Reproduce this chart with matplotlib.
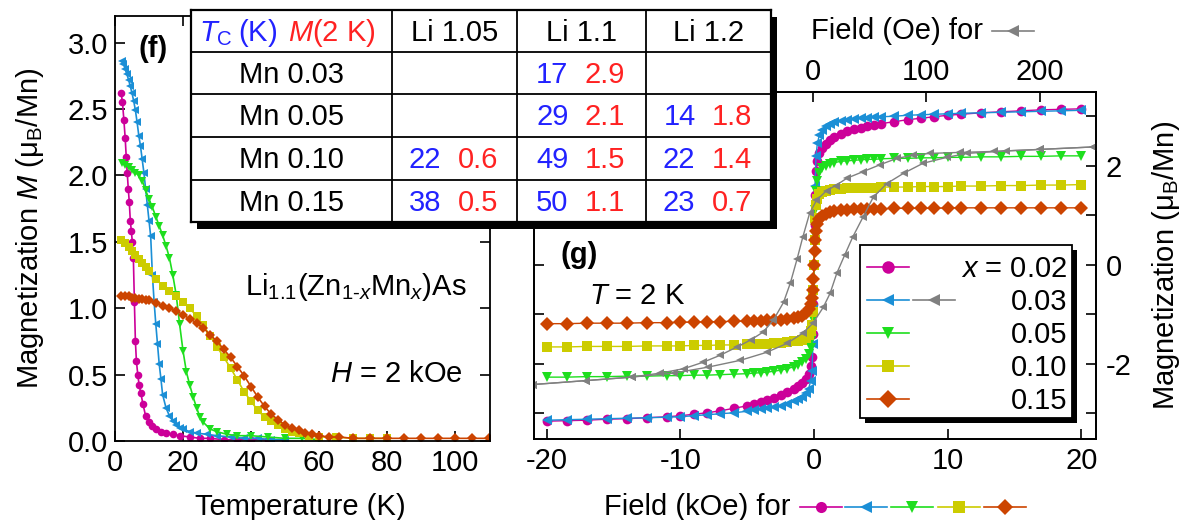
import matplotlib.pyplot as plt
from matplotlib.patches import Rectangle
from matplotlib.lines import Line2D
from matplotlib.ticker import FormatStrFormatter

plt.rcParams['font.family'] = ['Liberation Sans', 'DejaVu Sans']
plt.rcParams['mathtext.fontset'] = 'custom'
plt.rcParams['mathtext.rm'] = 'Liberation Sans'
plt.rcParams['mathtext.it'] = 'Liberation Sans:italic'
plt.rcParams['mathtext.bf'] = 'Liberation Sans:bold'
plt.rcParams['axes.unicode_minus'] = False
plt.rcParams['axes.linewidth'] = 1.3

W, H = 1183, 520
FS = 21

# ---- panel (f): M vs T at H = 2 kOe ----
t_002 = [1.8, 2.2, 2.6, 3.0, 3.3, 3.6, 3.9, 4.2, 4.5, 4.8, 5.1, 5.4, 5.7, 6.0, 6.3, 6.7, 7.1,
         7.6, 8.2, 9.0, 10, 11, 12, 13.5, 15, 17, 19, 22, 25, 28, 32, 36, 40, 45, 50]
m_002 = [2.62, 2.55, 2.42, 2.28, 2.14, 2.02, 1.90, 1.80, 1.66, 1.58, 1.50, 1.38, 1.05, 0.75, 0.60,
         0.50, 0.42, 0.36, 0.28, 0.19, 0.14, 0.11, 0.09, 0.07, 0.06, 0.05, 0.04, 0.03, 0.02, 0.02,
         0.01, 0.01, 0.01, 0.01, 0.01]

t_003 = [2, 2.5, 3, 3.5, 4, 4.5, 5, 5.5, 6, 6.5, 7, 7.5, 8, 8.5, 9, 9.5, 10, 10.5, 11, 11.5, 12,
         12.5, 13, 13.5, 14, 15, 16, 17, 18, 19, 20, 22, 24, 27, 30, 34, 38, 42, 46, 50]
m_003 = [2.86, 2.84, 2.80, 2.76, 2.72, 2.67, 2.62, 2.56, 2.49, 2.40, 2.30, 2.22, 2.12, 2.02, 1.90,
         1.78, 1.66, 1.54, 1.25, 1.05, 0.88, 0.73, 0.58, 0.47, 0.35, 0.25, 0.19, 0.15, 0.12, 0.10,
         0.09, 0.07, 0.06, 0.05, 0.04, 0.03, 0.02, 0.02, 0.01, 0.01]

t_005 = [2, 3, 4, 5, 6, 7, 8, 9, 10, 11, 12, 13, 14, 15, 16, 17, 18, 19, 20, 21, 22, 23, 24, 25,
         26, 28, 30, 33, 36, 40, 45, 50, 55, 60]
m_005 = [2.09, 2.08, 2.06, 2.04, 2.02, 2.00, 1.96, 1.89, 1.82, 1.76, 1.69, 1.62, 1.55, 1.47, 1.38,
         1.25, 1.10, 0.88, 0.68, 0.52, 0.42, 0.33, 0.25, 0.18, 0.14, 0.09, 0.07, 0.05, 0.04, 0.04,
         0.03, 0.02, 0.02, 0.01]

t_010 = [1.8, 3, 4, 5, 6, 7, 8, 9, 10, 12, 14, 16, 18, 20, 22, 24, 26, 28, 30, 32, 34, 36, 38,
         40, 42, 44, 46, 48, 50, 52, 54, 57, 60, 65, 70, 75, 80]
m_010 = [1.51, 1.49, 1.46, 1.43, 1.40, 1.37, 1.34, 1.31, 1.28, 1.22, 1.17, 1.13, 1.09, 1.05, 1.00,
         0.94, 0.87, 0.79, 0.71, 0.63, 0.55, 0.46, 0.37, 0.30, 0.23, 0.18, 0.15, 0.12, 0.09, 0.07,
         0.06, 0.04, 0.03, 0.03, 0.02, 0.02, 0.02]

t_015 = [1.8, 3, 4, 5, 6, 7, 8, 9, 10, 12, 14, 16, 18, 20, 22, 24, 26, 28, 30, 32, 34, 36, 38,
         40, 42, 44, 46, 48, 50, 52, 54, 56, 58, 60, 63, 66, 70, 75, 80, 85, 90, 95, 100, 105, 110]
m_015 = [1.09, 1.09, 1.09, 1.08, 1.08, 1.07, 1.07, 1.06, 1.06, 1.04, 1.02, 1.00, 0.98, 0.95, 0.92,
         0.89, 0.85, 0.80, 0.75, 0.69, 0.63, 0.56, 0.49, 0.41, 0.33, 0.26, 0.20, 0.16, 0.12, 0.10,
         0.08, 0.06, 0.05, 0.04, 0.03, 0.03, 0.02, 0.02, 0.02, 0.02, 0.02, 0.02, 0.02, 0.02, 0.02]

# ---- panel (g): M vs H at T = 2 K ----
field_koe = [-20, -18.5, -17, -15.5, -14, -12.5, -11, -10, -9, -8, -7, -6, -5, -4.5, -4, -3.5,
             -3, -2.5, -2, -1.5, -1.2, -0.9, -0.6, -0.4, -0.25, -0.15, -0.08, -0.04, 0,
             0.04, 0.08, 0.15, 0.25, 0.4, 0.6, 0.9, 1.2, 1.5, 2, 2.5, 3, 3.5, 4, 4.5, 5,
             6, 7, 8, 9, 10, 11, 12.5, 14, 15.5, 17, 18.5, 20]
mh_002 = [-3.16, -3.15, -3.14, -3.12, -3.11, -3.09, -3.07, -3.05, -3.02, -2.99, -2.95, -2.90,
          -2.85, -2.82, -2.78, -2.74, -2.69, -2.63, -2.57, -2.50, -2.44, -2.38, -2.30, -2.20,
          -2.05, -1.86, -1.40, -0.80, 0.0,
          0.80, 1.40, 1.90, 2.10, 2.25, 2.35, 2.44, 2.52, 2.58, 2.65, 2.70, 2.74, 2.77, 2.80,
          2.83, 2.85, 2.89, 2.93, 2.96, 2.99, 3.02, 3.04, 3.07, 3.09, 3.11, 3.13, 3.14, 3.15]
mh_003 = [-3.14, -3.13, -3.12, -3.11, -3.10, -3.09, -3.08, -3.07, -3.05, -3.03, -3.01, -2.99,
          -2.96, -2.94, -2.92, -2.90, -2.88, -2.85, -2.81, -2.76, -2.72, -2.67, -2.60, -2.50,
          -2.35, -2.15, -1.60, -0.90, 0.0,
          0.90, 1.60, 2.20, 2.45, 2.62, 2.72, 2.80, 2.85, 2.88, 2.91, 2.93, 2.95, 2.96, 2.97,
          2.98, 2.99, 3.00, 3.02, 3.03, 3.04, 3.05, 3.06, 3.07, 3.08, 3.09, 3.10, 3.11, 3.12]
mh_005 = [-2.27, -2.27, -2.26, -2.26, -2.25, -2.25, -2.24, -2.24, -2.23, -2.23, -2.22, -2.21,
          -2.20, -2.19, -2.18, -2.17, -2.15, -2.13, -2.10, -2.06, -2.02, -1.97, -1.90, -1.80,
          -1.68, -1.50, -1.10, -0.60, 0.0,
          0.60, 1.10, 1.50, 1.70, 1.85, 1.95, 2.00, 2.03, 2.06, 2.09, 2.10, 2.11, 2.12, 2.13,
          2.13, 2.14, 2.15, 2.15, 2.16, 2.16, 2.17, 2.17, 2.18, 2.18, 2.19, 2.19, 2.20, 2.20]
mh_010 = [-1.66, -1.66, -1.65, -1.65, -1.65, -1.64, -1.64, -1.64, -1.63, -1.63, -1.62, -1.62,
          -1.61, -1.61, -1.60, -1.60, -1.59, -1.58, -1.57, -1.55, -1.54, -1.51, -1.47, -1.42,
          -1.34, -1.22, -0.95, -0.50, 0.0,
          0.50, 0.95, 1.20, 1.32, 1.42, 1.47, 1.50, 1.52, 1.53, 1.54, 1.55, 1.55, 1.56, 1.56,
          1.56, 1.57, 1.57, 1.57, 1.58, 1.58, 1.58, 1.59, 1.59, 1.60, 1.60, 1.61, 1.61, 1.62]
mh_015 = [-1.19, -1.19, -1.18, -1.18, -1.18, -1.17, -1.17, -1.16, -1.16, -1.15, -1.15, -1.14,
          -1.14, -1.13, -1.13, -1.12, -1.12, -1.11, -1.10, -1.08, -1.06, -1.03, -0.97, -0.90,
          -0.80, -0.68, -0.50, -0.28, 0.0,
          0.28, 0.50, 0.68, 0.82, 0.92, 0.98, 1.03, 1.06, 1.08, 1.10, 1.11, 1.12, 1.12, 1.13,
          1.13, 1.13, 1.14, 1.14, 1.14, 1.14, 1.15, 1.15, 1.15, 1.15, 1.15, 1.15, 1.15, 1.15]

# x = 0.03 low-field loop (Oe)
down_oe = [247, 200, 160, 130, 103, 88, 74, 59, 44, 30, 20, 12, 3, -3, -9, -14, -20, -26, -35,
           -44, -55, -67, -82, -97, -114, -135, -160, -200, -247]
down_m = [2.38, 2.33, 2.29, 2.27, 2.25, 2.21, 2.15, 2.02, 1.88, 1.75, 1.60, 1.50, 1.30, 1.04,
          0.56, 0.12, -0.37, -0.76, -1.12, -1.36, -1.52, -1.66, -1.83, -1.97, -2.10, -2.19,
          -2.27, -2.34, -2.42]
up_oe = [-247, -200, -160, -123, -93, -64, -41, -23, -9, 0, 9, 15, 21, 28, 35, 44, 53, 65, 80,
         97, 118, 136, 170, 200, 247]
up_m = [-2.42, -2.34, -2.27, -2.19, -2.07, -1.93, -1.77, -1.59, -1.38, -1.18, -0.86, -0.58,
        -0.17, 0.20, 0.56, 0.96, 1.36, 1.64, 1.85, 2.05, 2.17, 2.25, 2.30, 2.33, 2.38]

# ---- inset table ----
row_labels = ['Mn 0.03', 'Mn 0.05', 'Mn 0.10', 'Mn 0.15']
col_labels = ['Li 1.05', 'Li 1.1', 'Li 1.2']
tc_vals = [[None, '17', None], [None, '29', '14'], ['22', '49', '22'], ['38', '50', '23']]
m2k_vals = [[None, '2.9', None], [None, '2.1', '1.8'], ['0.6', '1.5', '1.4'], ['0.5', '1.1', '0.7']]

x_labels = ['$x$ = 0.02', '0.03', '0.05', '0.10', '0.15']
colors = ['#cc0099', '#1b8fd6', '#1ede1e', '#cccc00', '#cc4400']
markers = ['o', '<', 'v', 's', 'D']
gray = '#808080'
tab_blue = '#2222ff'
tab_red = '#ff2222'


def fx(x):
    return x / W


def fy(y):
    return 1 - y / H


def rect(x0, y0, x1, y1):
    return [x0 / W, 1 - y1 / H, (x1 - x0) / W, (y1 - y0) / H]


fig = plt.figure(figsize=(W / 100, H / 100), dpi=100)

# panel (f)
axf = fig.add_axes(rect(115, 16, 490, 441))
mt_data = [(t_002, m_002), (t_003, m_003), (t_005, m_005), (t_010, m_010), (t_015, m_015)]
for (t, m), c, mk in zip(mt_data, colors, markers):
    axf.plot(t, m, color=c, marker=mk, ms=5.5, lw=1.2, mew=0)
axf.set_xlim(0, 110.3)
axf.set_ylim(0, 3.2)
axf.set_xticks([0, 20, 40, 60, 80, 100])
axf.set_yticks([0, 0.5, 1.0, 1.5, 2.0, 2.5, 3.0])
axf.yaxis.set_major_formatter(FormatStrFormatter('%.1f'))
axf.tick_params(direction='in', top=True, right=True, length=7, width=1.2, labelsize=FS)
axf.tick_params(axis='x', pad=6)
axf.tick_params(axis='y', pad=5)

# panel (g)
axg = fig.add_axes(rect(534, 92, 1096, 439))
mh_data = [mh_002, mh_003, mh_005, mh_010, mh_015]
for m, c, mk in zip(mh_data, colors, markers):
    axg.plot(field_koe, m, color=c, marker=mk, ms=7, lw=1, mew=0)
axg.set_xlim(-20.95, 21.1)
axg.set_ylim(-3.52, 3.49)
axg.set_xticks([-20, -10, 0, 10, 20])
axg.set_yticks([-2, 0, 2])
axg.set_yticks([-3, -1, 1, 3], minor=True)
axg.tick_params(which='both', direction='in', length=7, width=1.2, labelsize=FS)
axg.tick_params(axis='y', which='both', left=True, right=True, labelleft=False,
                labelright=True, pad=7)
axg.tick_params(axis='x', top=False, pad=6)

axo = axg.twiny()
axo.plot(down_oe, down_m, color=gray, marker='<', ms=5.5, lw=1, mew=0)
axo.plot(up_oe, up_m, color=gray, marker='<', ms=5.5, lw=1, mew=0)
axo.set_xlim(-246, 249.5)
axo.set_xticks([0, 100, 200])
axo.tick_params(axis='x', direction='in', length=7, width=1.2, labelsize=FS, pad=4)

# axis labels and annotations
fig.text(fx(30), fy(228), 'Magnetization $M$ (μ$_\\mathrm{B}$/Mn)', rotation=90,
         ha='center', va='center', fontsize=FS)
fig.text(fx(300), fy(515), 'Temperature (K)', ha='center', va='baseline', fontsize=FS)
fig.text(fx(138), fy(49), '(f)', ha='left', va='center', fontsize=FS, fontweight='bold')
fig.text(fx(467), fy(295), 'Li$_{1.1}$(Zn$_{1\u2010x}$Mn$_{x}$)As', ha='right',
         va='baseline', fontsize=FS)
fig.text(fx(463), fy(382), '$H$ = 2 kOe', ha='right', va='baseline', fontsize=FS)

fig.text(fx(1166), fy(265), 'Magnetization (μ$_\\mathrm{B}$/Mn)', rotation=90,
         ha='center', va='center', fontsize=FS)
fig.text(fx(561), fy(255), '(g)', ha='left', va='center', fontsize=FS, fontweight='bold')
fig.text(fx(589), fy(304), '$T$ = 2 K', ha='left', va='baseline', fontsize=FS)

fig.text(fx(790), fy(515), 'Field (kOe) for', ha='right', va='baseline', fontsize=FS)
sample_x = [821, 866, 912, 959, 1005]
for xc, c, mk in zip(sample_x, colors, markers):
    fig.add_artist(Line2D([fx(xc - 21), fx(xc), fx(xc + 21)], [fy(507)] * 3,
                          transform=fig.transFigure, color=c, lw=1.2, marker=mk,
                          markevery=[1], ms=8, mew=0))

fig.text(fx(983), fy(39), 'Field (Oe) for', ha='right', va='baseline', fontsize=FS)
fig.add_artist(Line2D([fx(992), fx(1013), fx(1034)], [fy(31)] * 3, transform=fig.transFigure,
                      color=gray, lw=1.2, marker='<', markevery=[1], ms=8, mew=0))

# legend box for (g)
fig.add_artist(Rectangle((fx(865), fy(423)), 212 / W, 173 / H, transform=fig.transFigure,
                         facecolor='black', edgecolor='none', zorder=11))
fig.add_artist(Rectangle((fx(860), fy(418)), 212 / W, 173 / H, transform=fig.transFigure,
                         facecolor='white', edgecolor='black', lw=1.3, zorder=12))
leg_y = [267, 300, 333, 366, 399]
for i, (yy, c, mk, lab) in enumerate(zip(leg_y, colors, markers, x_labels)):
    fig.add_artist(Line2D([fx(867), fx(888), fx(909)], [fy(yy)] * 3, transform=fig.transFigure,
                          color=c, lw=1.2, marker=mk, markevery=[1], ms=9, mew=0, zorder=13))
    if i == 1:
        fig.add_artist(Line2D([fx(913), fx(934), fx(955)], [fy(yy)] * 3,
                              transform=fig.transFigure, color=gray, lw=1.2, marker='<',
                              markevery=[1], ms=9, mew=0, zorder=13))
    fig.text(fx(1067), fy(yy + 10), lab, ha='right', va='baseline', fontsize=FS, zorder=13)

# inset table with drop shadow
col_edges = [0, 201, 326, 455, 580]
row_edges = [0, 42, 84, 127, 170, 212]
fig.add_artist(Rectangle((fx(197), fy(229)), 580 / W, 212 / H, transform=fig.transFigure,
                         facecolor='black', edgecolor='none', zorder=9))
tab = fig.add_axes(rect(191, 10, 771, 222), zorder=10)
tab.set_xlim(0, 580)
tab.set_ylim(212, 0)
tab.set_xticks([])
tab.set_yticks([])
for s in tab.spines.values():
    s.set_linewidth(1.6)
for xe in col_edges[1:-1]:
    tab.axvline(xe, color='black', lw=1.3)
for ye in row_edges[1:-1]:
    tab.axhline(ye, color='black', lw=1.3)

tab.text(86, 31, '$T_\\mathrm{C}$\u2009(K)', color=tab_blue, ha='right', va='baseline',
         fontsize=FS)
tab.text(97, 31, '$M$(2 K)', color=tab_red, ha='left', va='baseline', fontsize=FS)
for j, lab in enumerate(col_labels):
    xc = (col_edges[j + 1] + col_edges[j + 2]) / 2
    tab.text(xc, 31, lab, ha='center', va='baseline', fontsize=FS)
for i, lab in enumerate(row_labels):
    yb = row_edges[i + 1] + 31
    tab.text(col_edges[1] / 2, yb, lab, ha='center', va='baseline', fontsize=FS)
    for j in range(3):
        if tc_vals[i][j] is None:
            continue
        xc = (col_edges[j + 1] + col_edges[j + 2]) / 2
        tab.text(xc - 13, yb, tc_vals[i][j], color=tab_blue, ha='right', va='baseline',
                 fontsize=FS)
        tab.text(xc + 3, yb, m2k_vals[i][j], color=tab_red, ha='left', va='baseline',
                 fontsize=FS)

fig.savefig('out.png', dpi=100)
